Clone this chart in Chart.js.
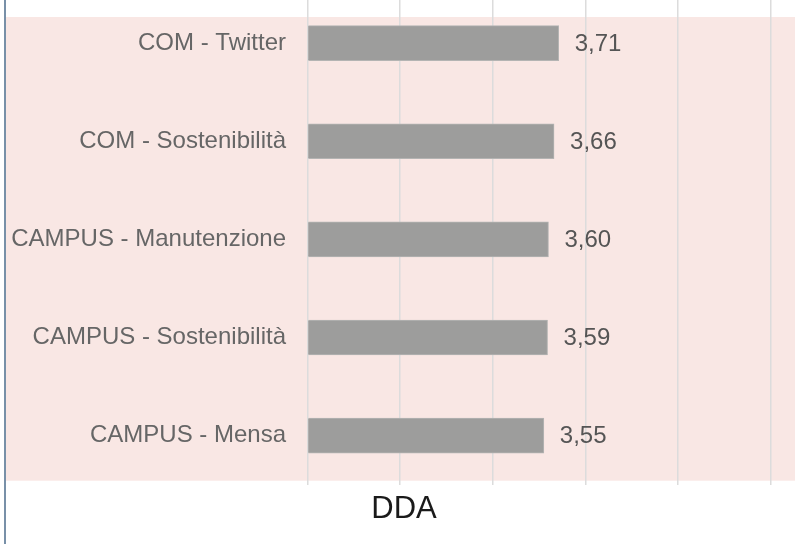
<!DOCTYPE html>
<html>
<head>
<meta charset="utf-8">
<script src="https://cdn.jsdelivr.net/npm/chart.js@4"></script>
<style>
  html, body { margin: 0; padding: 0; background: #fff; overflow: hidden; }
  .wrap { position: relative; width: 795px; height: 544px; overflow: hidden; }
  #chart-dda { position: absolute; left: 0; top: -6px; }
</style>
</head>
<body>
<div class="wrap">
  <canvas id="chart-dda" width="808" height="550"></canvas>
</div>
<script>
const categorie = [
  'COM - Twitter',
  'COM - Sostenibilità',
  'CAMPUS - Manutenzione',
  'CAMPUS - Sostenibilità',
  'CAMPUS - Mensa'
]
const valori = [3.71, 3.66, 3.60, 3.59, 3.55]
const titoloAsse = 'DDA'

// sfondo rosa + linea verticale a sinistra
const sfondo = {
  id: 'sfondo',
  beforeDraw(chart) {
    const { ctx, chartArea } = chart
    ctx.save()
    ctx.fillStyle = '#f9e7e4'
    ctx.fillRect(6, chartArea.top + 23, chart.width - 6, chartArea.bottom - chartArea.top - 27)
    ctx.strokeStyle = '#7890a8'
    ctx.lineWidth = 2
    ctx.beginPath()
    ctx.moveTo(5, 0)
    ctx.lineTo(5, chart.height)
    ctx.stroke()
    ctx.restore()
  }
}

// etichette con il valore accanto alle barre
const etichette = {
  id: 'etichette',
  afterDatasetsDraw(chart) {
    const { ctx } = chart
    const meta = chart.getDatasetMeta(0)
    ctx.save()
    ctx.font = '24px "Liberation Sans", Arial, sans-serif'
    ctx.fillStyle = '#555555'
    ctx.textAlign = 'left'
    ctx.textBaseline = 'middle'
    meta.data.forEach((bar, i) => {
      const testo = valori[i].toFixed(2).replace('.', ',')
      ctx.fillText(testo, bar.x + 16, bar.y + 1)
    })
    ctx.restore()
  }
}

const ctx = document.getElementById('chart-dda').getContext('2d')

new Chart(ctx, {
  type: 'bar',
  data: {
    labels: categorie,
    datasets: [{
      data: valori,
      backgroundColor: '#9d9d9c',
      borderColor: '#b4b4b3',
      borderWidth: 1,
      barThickness: 35,
      base: 1
    }]
  },
  options: {
    indexAxis: 'y',
    responsive: false,
    animation: false,
    layout: {
      padding: 0
    },
    plugins: {
      legend: { display: false },
      tooltip: { enabled: false },
      title: {
        display: true,
        position: 'bottom',
        text: titoloAsse,
        color: '#1a1a1a',
        font: { family: '"Liberation Sans", Arial, sans-serif', size: 31, weight: 'normal' },
        padding: { top: 5.7, bottom: 16.4 }
      }
    },
    scales: {
      x: {
        min: 1,
        max: 6.4,
        afterBuildTicks(scale) {
          scale.ticks = scale.ticks.filter(t => Number.isInteger(t.value))
        },
        ticks: { display: false, stepSize: 1 },
        grid: { color: '#dcdcdc', lineWidth: 1.5, drawTicks: false },
        border: { display: false }
      },
      y: {
        afterFit(scale) {
          scale.width = 307.5
          scale.paddingTop = 0
          scale.paddingBottom = 0
        },
        ticks: {
          color: '#666666',
          padding: 21.5,
          font: { family: '"Liberation Sans", Arial, sans-serif', size: 24 }
        },
        grid: { display: false, drawTicks: false },
        border: { display: false }
      }
    }
  },
  plugins: [sfondo, etichette]
})
</script>
</body>
</html>
